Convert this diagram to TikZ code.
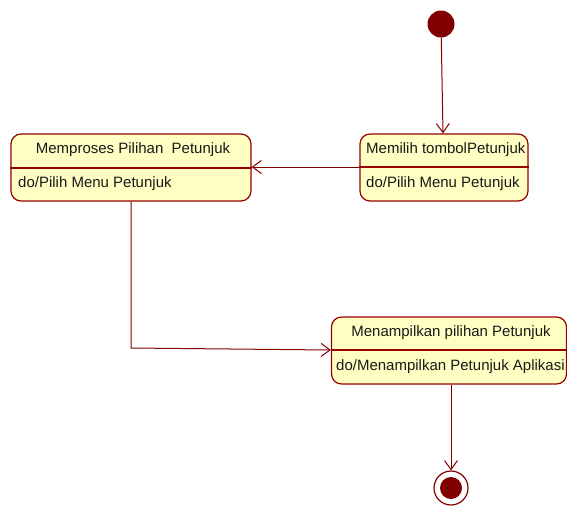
\documentclass[tikz,border=0pt]{standalone}
\usepackage{fontspec}
\setmainfont{Liberation Sans}
\usetikzlibrary{arrows.meta}
\definecolor{umlred}{HTML}{990000}
\definecolor{umldark}{HTML}{800000}
\definecolor{umlfill}{HTML}{FFFFC4}
\tikzset{
  statebox/.style={draw=umlred, fill=umlfill, line width=1.2pt, rounded corners=10pt, inner sep=0pt},
  divline/.style={draw=umlred, line width=1.2pt},
  lbl/.style={inner sep=0pt, font=\fontsize{15}{17}\selectfont, text=black!90},
  conn/.style={draw=umldark, line width=1pt, -{Straight Barb[length=9pt,width=13pt,line width=1pt]}},
}
\begin{document}
\begin{tikzpicture}[x=1pt,y=-1pt]
\useasboundingbox (0,0) rectangle (567,507);
% initial state
\node[circle, fill=umldark, minimum size=27pt, inner sep=0pt] (init) at (441,24) {};
% Memilih box
\node[statebox, minimum width=168pt, minimum height=67pt] (ml) at (444,167.5) {};
\draw[divline] (ml.west |- 0,167) -- (ml.east |- 0,167);
\node[lbl, anchor=west] (mlh) at (366,150) {Memilih tombolPetunjuk};
\node[lbl, anchor=west] (mld) at (366,183.5) {do/Pilih Menu Petunjuk};
% Memproses box
\node[statebox, minimum width=240pt, minimum height=67pt] (mp) at (131,167.5) {};
\draw[divline] (mp.west |- 0,168) -- (mp.east |- 0,168);
\node[lbl] (mph) at (133,150) {Memproses Pilihan\ \ Petunjuk};
\node[lbl, anchor=west] (mpd) at (18,183.5) {do/Pilih Menu Petunjuk};
% Menampilkan box
\node[statebox, minimum width=235pt, minimum height=67pt] (mn) at (449,350.5) {};
\draw[divline] (mn.west |- 0,350) -- (mn.east |- 0,350);
\node[lbl] (mnh) at (451,333) {Menampilkan pilihan Petunjuk};
\node[lbl, anchor=west] (mnd) at (336,367) {do/Menampilkan Petunjuk Aplikasi};
% final state
\node[circle, draw=umldark, fill=white, line width=1.2pt, minimum size=34pt, inner sep=0pt] (fin) at (451,488) {};
\node[circle, fill=umldark, minimum size=22pt, inner sep=0pt] (finin) at (fin) {};
% connectors
\coordinate (bend) at (131,348);
\draw[conn] (init) -- (ml.north -| 443,0);
\draw[conn] (ml.west |- 0,167) -- (mp.east |- 0,167);
\draw[conn] (mp.south -| 131,0) -- (bend) -- (mn.west |- 0,350);
\draw[conn] (mn.south -| 451,0) -- (fin.north);
\end{tikzpicture}
\end{document}
